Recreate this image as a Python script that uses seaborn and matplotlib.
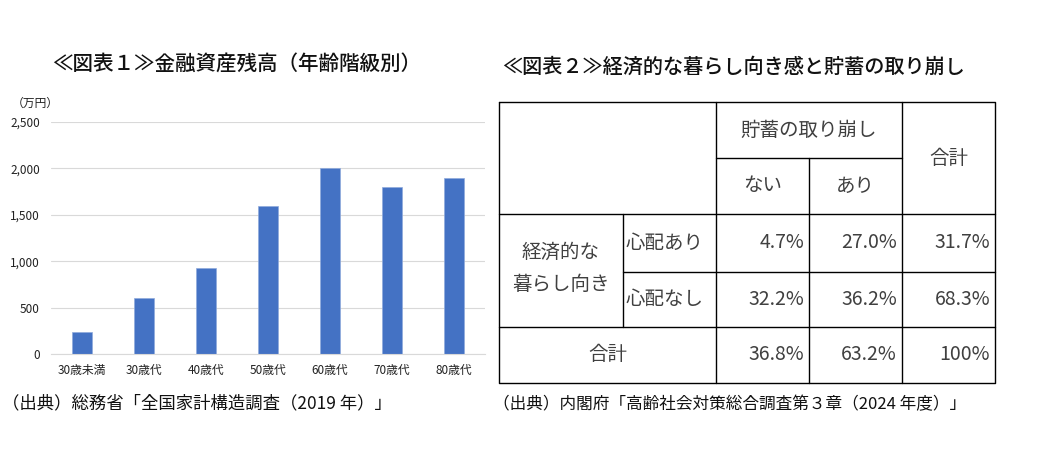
import matplotlib
matplotlib.use("Agg")
import matplotlib.pyplot as plt
import seaborn as sns
from matplotlib.ticker import FuncFormatter

# ---- data ----
age_groups = ["30歳未満", "30歳代", "40歳代", "50歳代", "60歳代", "70歳代", "80歳代"]
assets = [240, 600, 930, 1600, 2000, 1800, 1900]
y_ticks = [0, 500, 1000, 1500, 2000, 2500]

col_header_top = "貯蓄の取り崩し"
col_labels = ["ない", "あり"]
total_label = "合計"
row_group_label = ["経済的な", "暮らし向き"]
row_labels = ["心配あり", "心配なし"]
cell_values = [["4.7%", "27.0%", "31.7%"],
               ["32.2%", "36.2%", "68.3%"]]
total_row = ["36.8%", "63.2%", "100%"]

title1 = "≪図表１≫金融資産残高（年齢階級別）"
title2 = "≪図表２≫経済的な暮らし向き感と貯蓄の取り崩し"
source1 = "（出典）総務省「全国家計構造調査（2019 年）」"
source2 = "（出典）内閣府「高齢社会対策総合調査第３章（2024 年度）」"

sns.set_theme(style="white")
plt.rcParams['font.family'] = ['Noto Sans CJK JP', 'DejaVu Sans']

W, H = 1038, 459
fig = plt.figure(figsize=(W / 100, H / 100), dpi=100)

def fx(px):
    return px / W

def fy(py):
    return 1 - py / H

# ---- left bar chart ----
ax = fig.add_axes([fx(51), fy(354), fx(485) - fx(51), fy(122) - fy(354)])
sns.barplot(x=age_groups, y=assets, color="#4472C4", width=0.31, ax=ax,
            saturation=1, edgecolor="#8faadc", linewidth=0.5)
ax.set_ylim(0, 2500)
ax.set_xlim(-0.5, len(age_groups) - 0.5)
ax.set_yticks(y_ticks)
ax.yaxis.set_major_formatter(FuncFormatter(lambda v, p: f"{int(v):,}"))
ax.grid(axis="y", color="#d9d9d9", linewidth=0.8)
ax.set_axisbelow(True)
for s in ["top", "right", "left"]:
    ax.spines[s].set_visible(False)
ax.spines["bottom"].set_color("#d9d9d9")
ax.spines["bottom"].set_linewidth(0.8)
ax.tick_params(axis="both", length=0, labelsize=8.5, colors="#222222")
ax.tick_params(axis="y", pad=8)
ax.tick_params(axis="x", pad=7)
ax.set_xlabel("")
ax.set_ylabel("")

fig.text(fx(237), fy(65), title1, ha="center", va="center", fontsize=14.8,
         fontweight="medium", color="#111111")
fig.text(fx(12), fy(103), "（万円）", ha="left", va="center", fontsize=8.5, color="#222222")
fig.text(fx(2), fy(403), source1, ha="left", va="center", fontsize=12.5, color="#111111")

# ---- right table ----
tax = fig.add_axes([0, 0, 1, 1])
tax.set_xlim(0, W)
tax.set_ylim(H, 0)
tax.axis("off")

L, R, T, B = 499, 995, 102, 383
c1, c2, c3, c4 = 623, 716, 809, 902
r1, r2, r3, r4 = 158, 214, 272, 327
lw = 1.0
lc = "black"
# outer border
tax.plot([L, R, R, L, L], [T, T, B, B, T], color=lc, lw=lw)
# vertical lines
tax.plot([c1, c1], [r2, r4], color=lc, lw=lw)
tax.plot([c2, c2], [T, B], color=lc, lw=lw)
tax.plot([c3, c3], [r1, B], color=lc, lw=lw)
tax.plot([c4, c4], [T, B], color=lc, lw=lw)
# horizontal lines
tax.plot([c2, c4], [r1, r1], color=lc, lw=lw)
tax.plot([L, R], [r2, r2], color=lc, lw=lw)
tax.plot([c1, R], [r3, r3], color=lc, lw=lw)
tax.plot([L, R], [r4, r4], color=lc, lw=lw)

tc = "#404040"
fs = 14
tax.text((c2 + c4) / 2, (T + r1) / 2, col_header_top, ha="center", va="center", fontsize=fs, color=tc)
tax.text((c4 + R) / 2, (T + r2) / 2, total_label, ha="center", va="center", fontsize=fs, color=tc)
tax.text((c2 + c3) / 2, (r1 + r2) / 2, col_labels[0], ha="center", va="center", fontsize=fs, color=tc)
tax.text((c3 + c4) / 2, (r1 + r2) / 2, col_labels[1], ha="center", va="center", fontsize=fs, color=tc)
tax.text((L + c1) / 2, 252, row_group_label[0], ha="center", va="center", fontsize=fs, color=tc)
tax.text((L + c1) / 2, 285, row_group_label[1], ha="center", va="center", fontsize=fs, color=tc)

row_centers = [(r2 + r3) / 2, (r3 + r4) / 2]
col_rights = [c3 - 5, c4 - 5, R - 5]
for i, lab in enumerate(row_labels):
    tax.text(c1 + 3, row_centers[i], lab, ha="left", va="center", fontsize=fs, color=tc)
    for j, v in enumerate(cell_values[i]):
        tax.text(col_rights[j], row_centers[i], v, ha="right", va="center", fontsize=fs, color=tc)
tot_y = (r4 + B) / 2
tax.text((L + c2) / 2, tot_y, total_label, ha="center", va="center", fontsize=fs, color=tc)
for j, v in enumerate(total_row):
    tax.text(col_rights[j], tot_y, v, ha="right", va="center", fontsize=fs, color=tc)

fig.text(fx(502), fy(67), title2, ha="left", va="center", fontsize=14.5,
         fontweight="medium", color="#111111")
fig.text(fx(493), fy(405), source2, ha="left", va="center", fontsize=12, color="#111111")

fig.savefig("out.png", dpi=100)
